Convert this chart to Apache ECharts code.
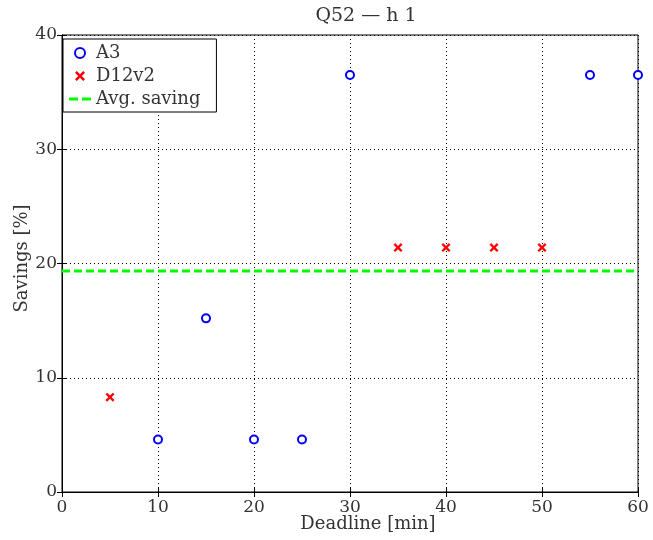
<!DOCTYPE html>
<html>
<head>
<meta charset="utf-8">
<script src="https://cdn.jsdelivr.net/npm/echarts@6/dist/echarts.min.js"></script>
<style>html,body{margin:0;padding:0;background:#fff}#chart{width:653px;height:540px}</style>
</head>
<body>
<div id="chart"></div>
<script>
// values
const a3Deadlines = [10, 15, 20, 25, 30, 55, 60];
const a3Savings = [4.6, 15.2, 4.6, 4.6, 36.5, 36.5, 36.5];
const d12Deadlines = [5, 35, 40, 45, 50];
const d12Savings = [8.3, 21.4, 21.4, 21.4, 21.4];
const avgSaving = 19.35;
const xTicks = [0, 10, 20, 30, 40, 50, 60];

const crossPath = 'path://M1.8,0 L5,3.2 L8.2,0 L10,1.8 L6.8,5 L10,8.2 L8.2,10 L5,6.8 L1.8,10 L0,8.2 L3.2,5 L0,1.8 Z';
const font = '"DejaVu Serif", "Liberation Serif", serif';
const txt = '#333';

const chart = echarts.init(document.getElementById('chart'));
const axisCommon = {
    axisLine: { show: true, onZero: false, lineStyle: { color: '#000', width: 1 } },
    axisTick: { show: true, inside: true, length: 5, lineStyle: { color: '#000' } },
    splitLine: { show: true, lineStyle: { color: '#000', type: [1, 3], width: 1 } },
    axisLabel: { color: txt, fontSize: 17, fontFamily: font }
};
chart.setOption({
    animation: false,
    title: {
        text: 'Q52 \u2014 h 1', left: 361, top: 2, textAlign: 'center',
        textStyle: { color: txt, fontSize: 19, fontWeight: 'normal', fontFamily: font }
    },
    grid: { left: 62, right: 15, top: 35, bottom: 48, show: true, borderColor: '#000', borderWidth: 1, outerBoundsMode: 'none', containLabel: false },
    legend: {
        orient: 'vertical', left: 63, top: 39,
        borderColor: '#000', borderWidth: 1, backgroundColor: '#fff',
        padding: [5, 16, 4, 6], itemGap: 5, itemWidth: 22, itemHeight: 10,
        textStyle: { color: txt, fontSize: 18, fontFamily: font },
        data: [
            { name: 'A3', icon: 'emptyCircle' },
            { name: 'D12v2', icon: crossPath },
            { name: 'Avg. saving', icon: 'path://M0,0h9v3h-9z M13,0h9v3h-9z' }
        ]
    },
    xAxis: [Object.assign({}, axisCommon, {
        type: 'value', min: 0, max: 60, interval: 10,
        name: 'Deadline [min]', nameLocation: 'middle', nameGap: 23, nameMoveOverlap: false,
        nameTextStyle: { color: txt, fontSize: 18, fontFamily: font, padding: [0, 0, 0, 36] },
        axisLabel: Object.assign({}, axisCommon.axisLabel, { margin: 7, formatter: v => xTicks.includes(v) ? String(v) : '' })
    }), {
        type: 'value', position: 'top', min: 0, max: 60, interval: 10,
        axisLine: { show: true, lineStyle: { color: '#000' } },
        axisTick: { show: true, inside: true, length: 5, lineStyle: { color: '#000' } },
        axisLabel: { show: false }, splitLine: { show: false }
    }],
    yAxis: [Object.assign({}, axisCommon, {
        type: 'value', min: 0, max: 40, interval: 10,
        name: 'Savings [%]', nameLocation: 'middle', nameGap: 31, nameMoveOverlap: false,
        nameTextStyle: { color: txt, fontSize: 18, fontFamily: font, padding: [0, 0, 0, 10] },
        axisLabel: Object.assign({}, axisCommon.axisLabel, { margin: 5 })
    }), {
        type: 'value', position: 'right', min: 0, max: 40, interval: 10,
        axisLine: { show: true, lineStyle: { color: '#000' } },
        axisTick: { show: true, inside: true, length: 5, lineStyle: { color: '#000' } },
        axisLabel: { show: false }, splitLine: { show: false }
    }],
    series: [
        {
            name: 'A3', type: 'scatter', clip: false,
            symbol: 'emptyCircle', symbolSize: 8,
            itemStyle: { color: '#0000ff', borderColor: '#0000ff', borderWidth: 3, opacity: 1 },
            data: a3Deadlines.map((d, i) => [d, a3Savings[i]]), z: 5
        },
        {
            name: 'D12v2', type: 'scatter', clip: false,
            symbol: crossPath, symbolSize: 9,
            itemStyle: { color: '#ff0000', opacity: 1 },
            data: d12Deadlines.map((d, i) => [d, d12Savings[i]]), z: 5
        },
        {
            name: 'Avg. saving', type: 'line', symbol: 'none',
            lineStyle: { color: '#00ff00', width: 3, type: [8, 4] },
            itemStyle: { color: '#00ff00' },
            data: [[0, avgSaving], [60, avgSaving]], z: 4
        }
    ]
});
</script>
</body>
</html>
